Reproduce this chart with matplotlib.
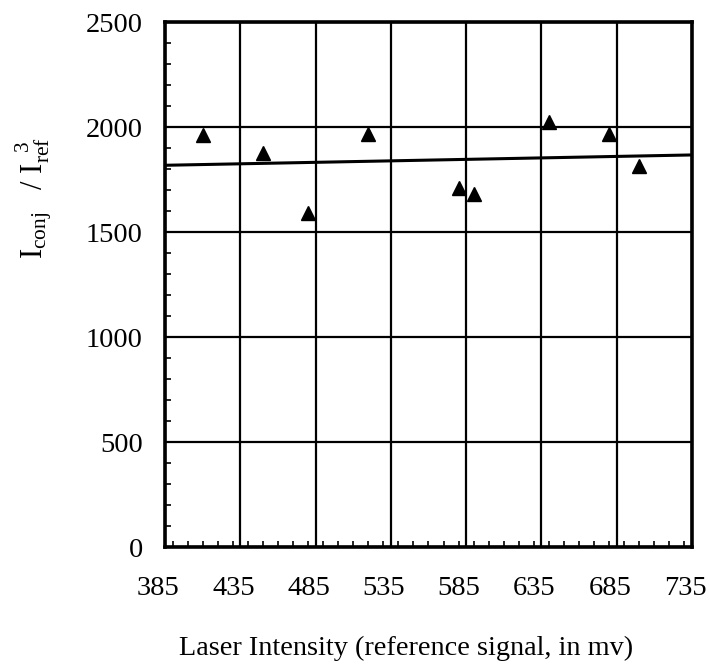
import numpy as np
import matplotlib
matplotlib.use("Agg")
import matplotlib.pyplot as plt
from matplotlib.ticker import MultipleLocator
from matplotlib.transforms import ScaledTranslation

# Laser intensity (reference signal, mV) and normalised conjugate signal
intensity = [410, 450, 480, 520, 580, 590, 640, 680, 700]
ratio = [1960, 1875, 1590, 1965, 1708, 1681, 2025, 1966, 1813]

x_ticks = [385, 435, 485, 535, 585, 635, 685, 735]
y_ticks = [0, 500, 1000, 1500, 2000, 2500]

plt.rcParams["font.family"] = ["Liberation Serif", "DejaVu Serif"]
plt.rcParams["mathtext.fontset"] = "custom"
plt.rcParams["mathtext.rm"] = "Liberation Serif"
plt.rcParams["mathtext.it"] = "Liberation Serif:italic"

fig = plt.figure(figsize=(7.1, 6.65), dpi=100)
ax = fig.add_axes([0.2324, 0.1774, 0.7422, 0.7895])

ax.set_xlim(x_ticks[0], x_ticks[-1])
ax.set_ylim(y_ticks[0], y_ticks[-1])
ax.set_xticks(x_ticks)
ax.set_yticks(y_ticks)
ax.xaxis.set_minor_locator(MultipleLocator(10))
ax.yaxis.set_minor_locator(MultipleLocator(100))

ax.grid(True, which="major", color="black", linewidth=1.6)
ax.set_axisbelow(True)

# least-squares trend line
coef = np.polyfit(intensity, ratio, 1)
xs = np.array([x_ticks[0], x_ticks[-1]])
ax.plot(xs, np.polyval(coef, xs), color="black", linewidth=2.2, zorder=3)

ax.plot(intensity, ratio, linestyle="none", marker="^", markersize=9.5,
        color="black", zorder=4)

for s in ax.spines.values():
    s.set_linewidth(2.6)

ax.tick_params(which="both", direction="in", top=False, right=False,
               labelsize=20.5, color="black")
ax.tick_params(which="major", length=0)
ax.tick_params(which="minor", length=4, width=1.2)
ax.tick_params(axis="y", which="major", pad=16)
ax.tick_params(axis="x", which="major", pad=21)

# nudge the x tick labels slightly left of their ticks
shift = ScaledTranslation(-5 / 72, 0, fig.dpi_scale_trans)
for lab in ax.get_xticklabels():
    lab.set_transform(lab.get_transform() + shift)

fig.text(0.572, 1 - 636 / 665, "Laser Intensity (reference signal, in mv)",
         fontsize=20.3, ha="center", va="top")
fig.text(0.048, 0.702,
         r"$\mathrm{I_{conj}\ \ \ /\ I_{ref}^{\ \ 3}}$",
         rotation=90, fontsize=22, ha="center", va="center")

fig.savefig("out.png", dpi=100)
